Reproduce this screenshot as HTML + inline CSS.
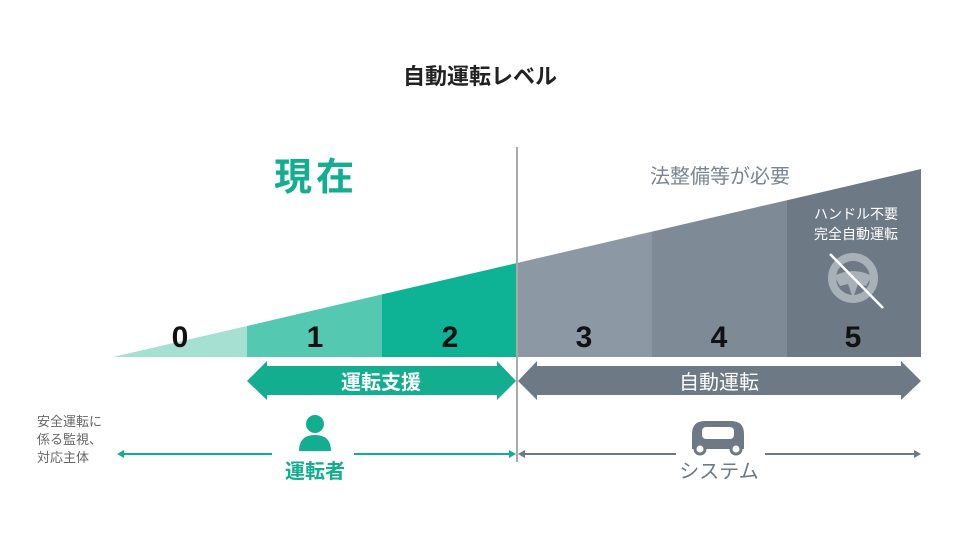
<!DOCTYPE html>
<html><head><meta charset="utf-8"><style>
html,body{margin:0;padding:0;background:#fff;}
body{width:960px;height:540px;overflow:hidden;font-family:"Liberation Sans","Noto Sans CJK JP",sans-serif;}
</style></head><body>
<svg width="960" height="540" viewBox="0 0 960 540" xmlns="http://www.w3.org/2000/svg" font-family="Liberation Sans, Noto Sans CJK JP, sans-serif">
<text x="480" y="84" text-anchor="middle" font-size="22" font-weight="bold" fill="#222">自動運転レベル</text>
<text x="316" y="190" text-anchor="middle" font-size="38" font-weight="bold" fill="#12ae8f" letter-spacing="4">現在</text>
<text x="720" y="183" text-anchor="middle" font-size="20" fill="#7a8591">法整備等が必要</text>
<polygon points="113,357 247,326 247,357" fill="#a5e0d3"/>
<polygon points="247,326 382,294.4 382,357 247,357" fill="#55c8b2"/>
<polygon points="382,294.4 517,263 517,357 382,357" fill="#0db394"/>
<polygon points="517,263 652,231.6 652,357 517,357" fill="#8c98a4"/>
<polygon points="652,231.6 787,200.2 787,357 652,357" fill="#7f8a97"/>
<polygon points="787,200.2 921,169 921,357 787,357" fill="#6e7986"/>
<g font-size="30" font-weight="bold" text-anchor="middle">
<text x="180" y="347" fill="#111">0</text>
<text x="315" y="347" fill="#111">1</text>
<text x="450" y="347" fill="#111">2</text>
<text x="584" y="347" fill="#111">3</text>
<text x="719" y="347" fill="#111">4</text>
<text x="853" y="347" fill="#111">5</text>
</g>
<text x="856" y="219" text-anchor="middle" font-size="14" fill="#fff">ハンドル不要</text>
<text x="856" y="239" text-anchor="middle" font-size="14" fill="#fff">完全自動運転</text>
<circle cx="853" cy="278" r="21" fill="none" stroke="#a8b0b8" stroke-width="8"/>
<path d="M834,276 Q853,266 872,276 L866,286 L858,284 L853,298 L848,284 L840,286 Z" fill="#a8b0b8"/>
<line x1="830" y1="254" x2="883" y2="308" stroke="#fff" stroke-width="2.5"/>
<line x1="517" y1="147" x2="517" y2="462" stroke="#a9a9a9" stroke-width="2"/>
<polygon points="247,381 267,361 267,366 497,366 497,361 516,381 497,400 497,395 267,395 267,400" fill="#12ae8f"/>
<text x="381" y="389" text-anchor="middle" font-size="20" font-weight="bold" fill="#fff">運転支援</text>
<polygon points="518,381 537,361 537,366 901,366 901,361 921,381 901,400 901,395 537,395 537,400" fill="#6e7986"/>
<text x="719" y="389" text-anchor="middle" font-size="20" fill="#fff">自動運転</text>
<g font-size="13" fill="#666">
<text x="37" y="426">安全運転に</text>
<text x="37" y="444">係る監視、</text>
<text x="37" y="462">対応主体</text>
</g>
<line x1="122" y1="454" x2="272" y2="454" stroke="#12ae8f" stroke-width="2"/>
<polygon points="117,454 124,450 124,458" fill="#12ae8f"/>
<line x1="354" y1="454" x2="512" y2="454" stroke="#12ae8f" stroke-width="2"/>
<polygon points="516,454 509,450 509,458" fill="#12ae8f"/>
<circle cx="315" cy="424" r="9" fill="#12ae8f"/>
<path d="M299,451 Q299,435 315,435 Q331,435 331,451 Z" fill="#12ae8f"/>
<text x="315" y="478" text-anchor="middle" font-size="20" font-weight="bold" fill="#12ae8f">運転者</text>
<line x1="522" y1="454" x2="676" y2="454" stroke="#6e7986" stroke-width="2"/>
<polygon points="518,454 525,450 525,458" fill="#6e7986"/>
<line x1="765" y1="454" x2="917" y2="454" stroke="#6e7986" stroke-width="2"/>
<polygon points="921,454 914,450 914,458" fill="#6e7986"/>
<path d="M692,449 L692,434 Q692,421 705,421 L731,421 Q744,421 744,434 L744,449 Z" fill="#6e7986"/>
<rect x="702" y="427" width="32" height="12" rx="4" fill="#fff"/>
<circle cx="700" cy="449" r="5" fill="#fff" stroke="#6e7986" stroke-width="3"/>
<circle cx="736" cy="449" r="5" fill="#fff" stroke="#6e7986" stroke-width="3"/>
<text x="719" y="478" text-anchor="middle" font-size="20" fill="#6e7986">システム</text>
</svg>
</body></html>
